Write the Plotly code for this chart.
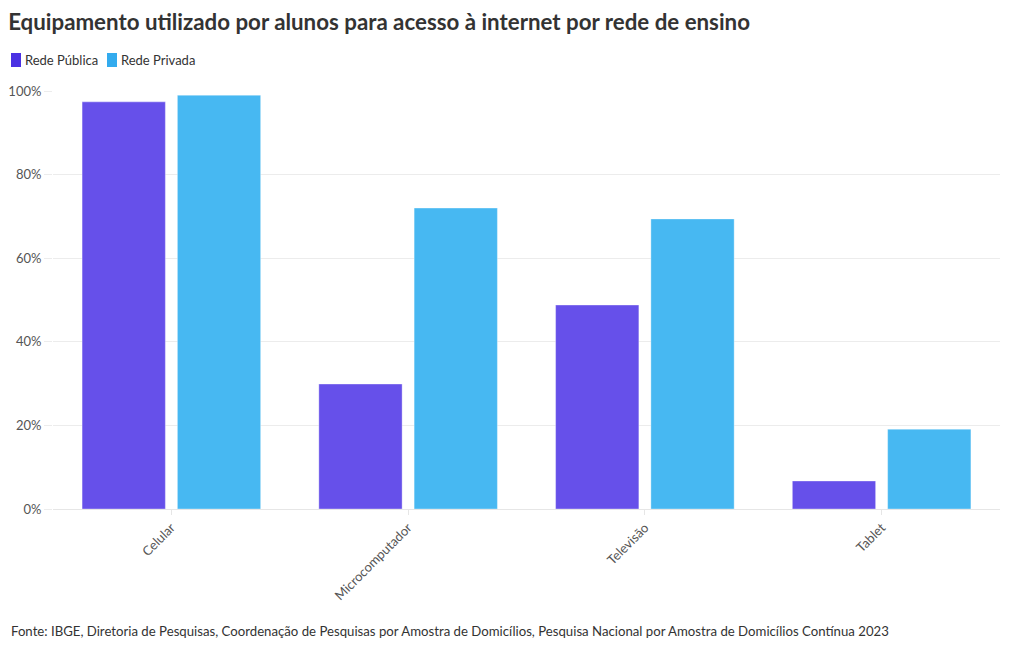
import plotly.graph_objects as go

categories = ["Celular", "Microcomputador", "Televisão", "Tablet"]
publica = [97.4, 29.9, 48.8, 6.7]
privada = [99.0, 72.0, 69.4, 19.1]
series_names = ["Rede Pública", "Rede Privada"]
series_colors = ["#6650EA", "#47B8F2"]
legend_swatch_colors = ["#4B32E3", "#33ABEE"]
y_ticks = [0, 20, 40, 60, 80, 100]
y_tick_labels = [f"{v}%" for v in y_ticks]

FONT = "Lato"
W, H = 1020, 650
L, R, T, B = 53, 20, 91, 141
PW, PH = W - L - R, H - T - B


def px_x(px):
    return (px - L) / PW


def px_y(py):
    return (H - B - py) / PH


fig = go.Figure()
for name, vals, col in zip(series_names, [publica, privada], series_colors):
    fig.add_trace(go.Bar(x=categories, y=vals, name=name, showlegend=False,
                         marker=dict(color=col, line=dict(color="rgba(255,255,255,0.35)", width=1))))

fig.update_layout(
    width=W, height=H,
    paper_bgcolor="white", plot_bgcolor="white",
    font=dict(family=FONT, size=13, color="#555"),
    barmode="group", bargap=0.195, bargroupgap=0.126,
    margin=dict(l=L, r=R, t=T, b=B, autoexpand=False),
    title=dict(text="<b>Equipamento utilizado por alunos para acesso à internet por rede de ensino</b>",
               x=0.008, xanchor="left", y=0.966, yanchor="middle",
               font=dict(family=FONT, size=22.3, color="#333")),
    showlegend=False,
    xaxis=dict(tickangle=-45, ticks="outside", ticklen=5, tickcolor="#e6e6e6", automargin=False,
               showline=True, linecolor="#e6e6e6", tickfont=dict(size=13, color="#555")),
    yaxis=dict(range=[0, 100], tickvals=y_ticks, ticktext=y_tick_labels, automargin=False,
               showgrid=True, gridcolor="#ececec", zeroline=False,
               ticks="outside", ticklen=8, tickcolor="#ececec",
               tickfont=dict(size=13, color="#555")),
)

# legend (manual, compact like the reference)
legend_x = [11, 107]
for lx, name, col in zip(legend_x, series_names, legend_swatch_colors):
    fig.add_shape(type="rect", xref="paper", yref="paper",
                  x0=px_x(lx), x1=px_x(lx + 10), y0=px_y(67), y1=px_y(53),
                  fillcolor=col, line=dict(width=0))
    fig.add_annotation(text=name, xref="paper", yref="paper", x=px_x(lx + 12), y=px_y(60),
                       xanchor="left", yanchor="middle", showarrow=False,
                       font=dict(size=13, color="#333"))

fig.add_annotation(text="Fonte: IBGE, Diretoria de Pesquisas, Coordenação de Pesquisas por Amostra de Domicílios, Pesquisa Nacional por Amostra de Domicílios Contínua 2023",
                   xref="paper", yref="paper", x=px_x(9), y=px_y(631), xanchor="left", yanchor="middle",
                   showarrow=False, font=dict(size=13.2, color="#333"))

fig.write_html("out.html", config={"displayModeBar": False},
               post_script="document.body.style.margin='0';document.body.style.padding='0';")
